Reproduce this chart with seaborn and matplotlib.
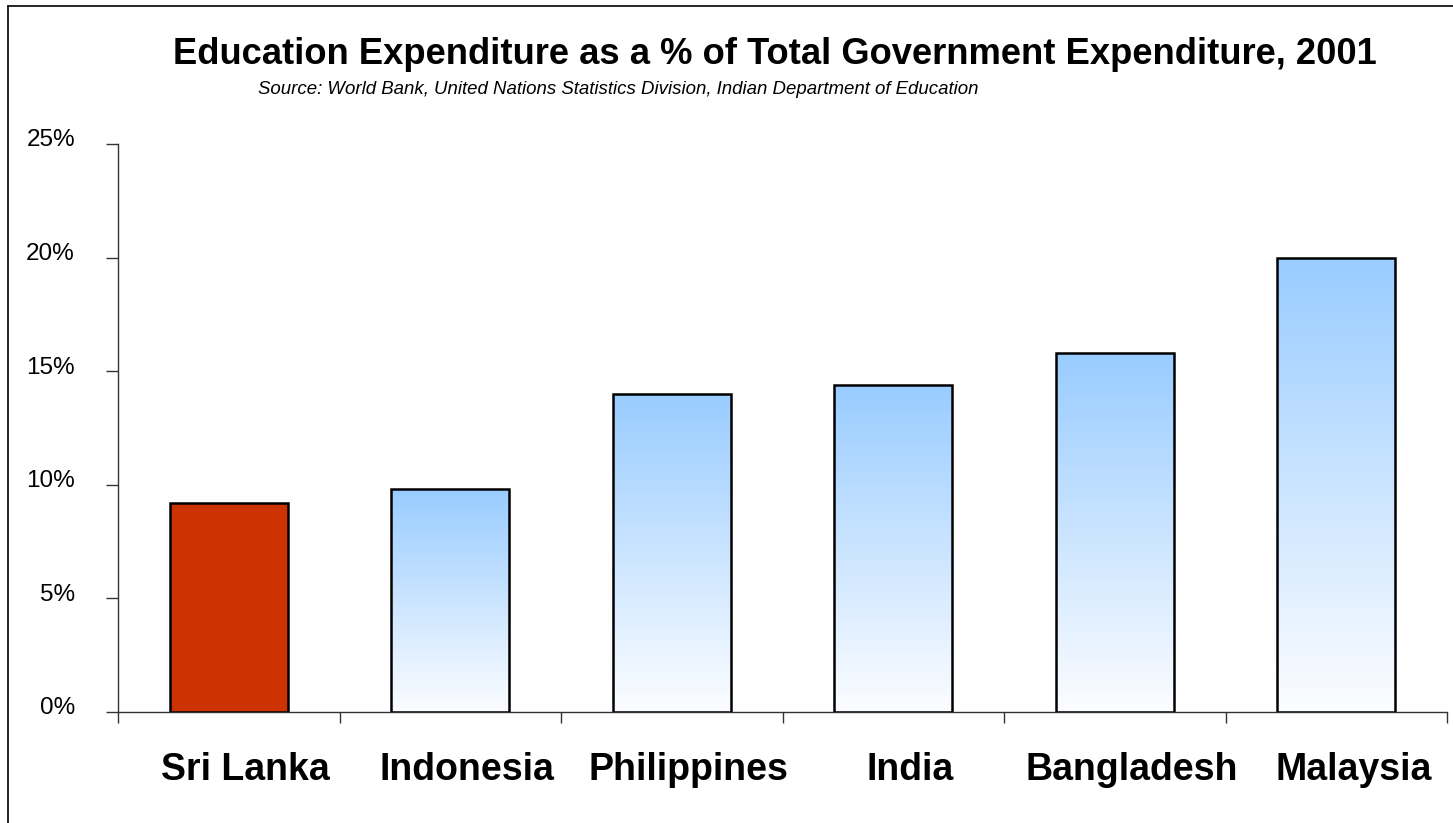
import numpy as np
import pandas as pd
import matplotlib
matplotlib.use("Agg")
import matplotlib.pyplot as plt
import matplotlib.transforms as mtransforms
from matplotlib.colors import LinearSegmentedColormap
from matplotlib.lines import Line2D
import seaborn as sns

# Data: education spending as a share of total government expenditure, 2001
countries = ["Sri Lanka", "Indonesia", "Philippines", "India", "Bangladesh", "Malaysia"]
edu_share = [9.2, 9.8, 14.0, 14.4, 15.8, 20.0]
highlight = "Sri Lanka"
y_ticks = [0, 5, 10, 15, 20, 25]
y_tick_labels = ["0%", "5%", "10%", "15%", "20%", "25%"]

title = "Education Expenditure as a % of Total Government Expenditure, 2001"
source = "Source: World Bank, United Nations Statistics Division, Indian Department of Education"

sns.set_theme(style="white")
plt.rcParams["font.family"] = ["Liberation Sans", "DejaVu Sans"]
plt.rcParams["text.color"] = "black"
plt.rcParams["xtick.labelcolor"] = "black"
plt.rcParams["ytick.labelcolor"] = "black"

W, H = 1453, 823
fig = plt.figure(figsize=(W / 100, H / 100), dpi=100)
ax = fig.add_axes([118 / W, 1 - 712 / H, (1447 - 118) / W, (712 - 144) / H])

df = pd.DataFrame({"country": countries, "share": edu_share})
sns.barplot(data=df, x="country", y="share", ax=ax, width=0.533,
            color="#99CCFF", saturation=1, edgecolor="black", linewidth=1.8)

# vertical gradient fill (light blue at top fading to white) for all but the highlighted bar
grad_cmap = LinearSegmentedColormap.from_list("fade", ["#FCFDFF", "#99CCFF"])
grad = np.linspace(1, 0, 256).reshape(-1, 1)
for name, patch in zip(countries, ax.patches):
    if name == highlight:
        patch.set_facecolor("#CC3300")
        continue
    x0 = patch.get_x()
    w = patch.get_width()
    h = patch.get_height()
    patch.set_facecolor("none")
    im = ax.imshow(grad, cmap=grad_cmap, aspect="auto", origin="upper",
                   extent=(x0, x0 + w, 0, h), zorder=patch.get_zorder() - 0.1,
                   interpolation="bicubic")
    im.set_clip_path(patch)

ax.set_xlim(-0.5, len(countries) - 0.5)
ax.set_ylim(0, 25)
ax.set_xlabel("")
ax.set_ylabel("")

# y axis
ax.set_yticks(y_ticks)
ax.set_yticklabels(y_tick_labels, fontsize=17.5, color="black")
ax.tick_params(axis="y", left=True, length=9, width=1, color="#333333",
               direction="out", pad=22)

# x axis: ticks at category boundaries, labels centred under bars
ax.set_xticks(np.arange(-0.5, len(countries), 1))
ax.set_xticklabels([])
ax.set_xticks(np.arange(len(countries)), minor=True)
ax.set_xticklabels(countries, minor=True, fontsize=27, fontweight="bold", color="black")
ax.tick_params(axis="x", which="major", bottom=True, length=8, width=1,
               color="#333333", direction="out")
ax.tick_params(axis="x", which="minor", bottom=True, length=0, pad=29)

for lab in ax.get_yticklabels():
    lab.set_transform(lab.get_transform() +
                      mtransforms.ScaledTranslation(0, 0.06, fig.dpi_scale_trans))
for lab in ax.get_xticklabels(minor=True):
    lab.set_transform(lab.get_transform() +
                      mtransforms.ScaledTranslation(0.17, 0, fig.dpi_scale_trans))

for side in ("top", "right"):
    ax.spines[side].set_visible(False)
for side in ("left", "bottom"):
    ax.spines[side].set_color("#333333")
    ax.spines[side].set_linewidth(1)

# titles
fig.text(775 / W, 1 - 55 / H, title, ha="center", va="center",
         fontsize=26.2, fontweight="bold", color="black")
fig.text(258 / W, 1 - 89 / H, source, ha="left", va="center",
         fontsize=13.4, style="italic", color="black")

# frame around the chart area
fig.add_artist(Line2D([8 / W, 8 / W], [0, 1 - 6 / H], transform=fig.transFigure,
                      color="black", lw=1.2))
fig.add_artist(Line2D([8 / W, 1], [1 - 6 / H, 1 - 6 / H], transform=fig.transFigure,
                      color="black", lw=1.2))

fig.savefig("out.png", dpi=100)
